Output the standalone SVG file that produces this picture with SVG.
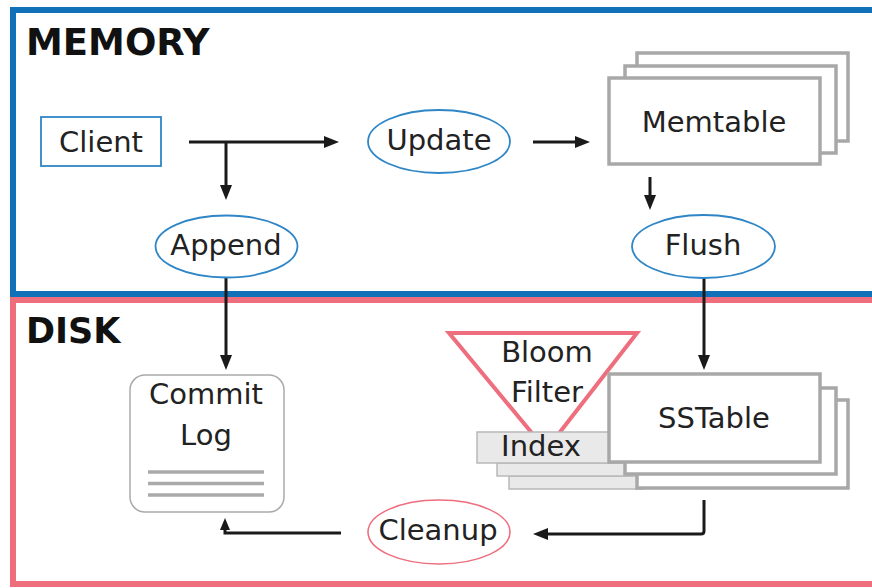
<svg xmlns="http://www.w3.org/2000/svg" width="872" height="588" viewBox="0 0 872 588">
<style>
  .t { font-family: "DejaVu Sans", "Liberation Sans", sans-serif; font-size: 29px; fill: #222; text-anchor: middle; }
  .h { font-family: "DejaVu Sans", "Liberation Sans", sans-serif; font-weight: bold; fill: #111; }
  .blue-ell { fill: #fff; stroke: #2f86c6; stroke-width: 1.8; }
  .pink-ell { fill: #fff; stroke: #ee6e7e; stroke-width: 1.6; }
  .stack { fill: #fff; stroke: #a8a8a8; stroke-width: 3.5; }
  .idx { fill: #e9e9e9; stroke: #b8b8b8; stroke-width: 1.5; }
  .conn { fill: none; stroke: #1a1a1a; stroke-width: 3; }
</style>
<defs>
  <marker id="arr" markerUnits="userSpaceOnUse" markerWidth="16" markerHeight="14" refX="5" refY="7" orient="auto">
    <path d="M0,1 L15,7 L0,13 z" fill="#1a1a1a"/>
  </marker>
  <marker id="arrs" markerUnits="userSpaceOnUse" markerWidth="14" markerHeight="12" refX="4" refY="6" orient="auto">
    <path d="M0,1 L12,6 L0,11 z" fill="#1a1a1a"/>
  </marker>
</defs>
<rect x="0" y="0" width="872" height="588" fill="#fff"/>

<g id="memory">
  <rect x="13" y="10" width="870" height="284" fill="none" stroke="#1070b8" stroke-width="6"/>
  <text class="h" x="26" y="55" font-size="37">MEMORY</text>
</g>
<g id="disk">
  <rect x="13" y="300" width="870" height="284" fill="none" stroke="#ee6e7e" stroke-width="6"/>
  <text class="h" x="26" y="343" font-size="35">DISK</text>
</g>

<g id="connectors">
  <line class="conn" x1="189" y1="142" x2="329" y2="142" marker-end="url(#arr)"/>
  <line class="conn" x1="226" y1="142" x2="226" y2="190" marker-end="url(#arr)"/>
  <line class="conn" x1="533" y1="142" x2="580" y2="142" marker-end="url(#arr)"/>
  <line class="conn" x1="650" y1="177" x2="650" y2="200" marker-end="url(#arr)"/>
  <line class="conn" x1="226" y1="278" x2="226" y2="360" marker-end="url(#arr)"/>
  <line class="conn" x1="704" y1="278" x2="704" y2="360" marker-end="url(#arr)"/>
  <path class="conn" d="M704,500 V531 Q704,534 701,534 H543" marker-end="url(#arr)"/>
  <path class="conn" d="M341,533 H225 V526" marker-end="url(#arrs)"/>
</g>

<g id="client">
  <rect x="41" y="117" width="120" height="49" fill="#fff" stroke="#2f86c6" stroke-width="1.8"/>
  <text class="t" x="101" y="152">Client</text>
</g>

<g id="append">
  <ellipse class="blue-ell" cx="226.5" cy="246.5" rx="71" ry="31"/>
  <text class="t" x="226" y="255">Append</text>
</g>

<g id="update">
  <ellipse class="blue-ell" cx="439" cy="141.5" rx="71" ry="31.5"/>
  <text class="t" x="439" y="150">Update</text>
</g>

<g id="memtable">
  <rect class="stack" x="637" y="53" width="211" height="88"/>
  <rect class="stack" x="625" y="66" width="211" height="87"/>
  <rect class="stack" x="609" y="78" width="211" height="86"/>
  <text class="t" x="714" y="132">Memtable</text>
</g>

<g id="flush">
  <ellipse class="blue-ell" cx="703.5" cy="246.5" rx="71.5" ry="31.5"/>
  <text class="t" x="703" y="255">Flush</text>
</g>

<g id="bloom-filter">
  <polygon points="449,333 637,333 546,450" fill="#fff" stroke="#ee6e7e" stroke-width="4"/>
  <text class="t" x="547" y="362">Bloom</text>
  <text class="t" x="547" y="402">Filter</text>
</g>

<g id="index">
  <rect class="idx" x="509" y="476" width="135" height="13"/>
  <rect class="idx" x="497" y="463" width="135" height="13"/>
  <rect class="idx" x="477" y="432" width="140" height="31"/>
  <text class="t" x="541" y="456">Index</text>
</g>

<g id="sstable">
  <rect class="stack" x="637" y="400" width="211" height="88"/>
  <rect class="stack" x="625" y="388" width="211" height="86"/>
  <rect class="stack" x="609" y="374" width="211" height="88"/>
  <text class="t" x="714" y="428">SSTable</text>
</g>

<g id="commit-log">
  <rect x="130" y="375" width="154" height="137" rx="15" ry="15" fill="#fff" stroke="#aaa" stroke-width="1.5"/>
  <text class="t" x="206" y="404">Commit</text>
  <text class="t" x="206" y="445">Log</text>
  <g stroke="#aaa" stroke-width="3.5">
    <line x1="148" y1="472" x2="264" y2="472"/>
    <line x1="148" y1="483.5" x2="264" y2="483.5"/>
    <line x1="148" y1="495" x2="264" y2="495"/>
  </g>
</g>

<g id="cleanup">
  <ellipse class="pink-ell" cx="439" cy="532" rx="71" ry="32"/>
  <text class="t" x="438" y="540">Cleanup</text>
</g>
</svg>
